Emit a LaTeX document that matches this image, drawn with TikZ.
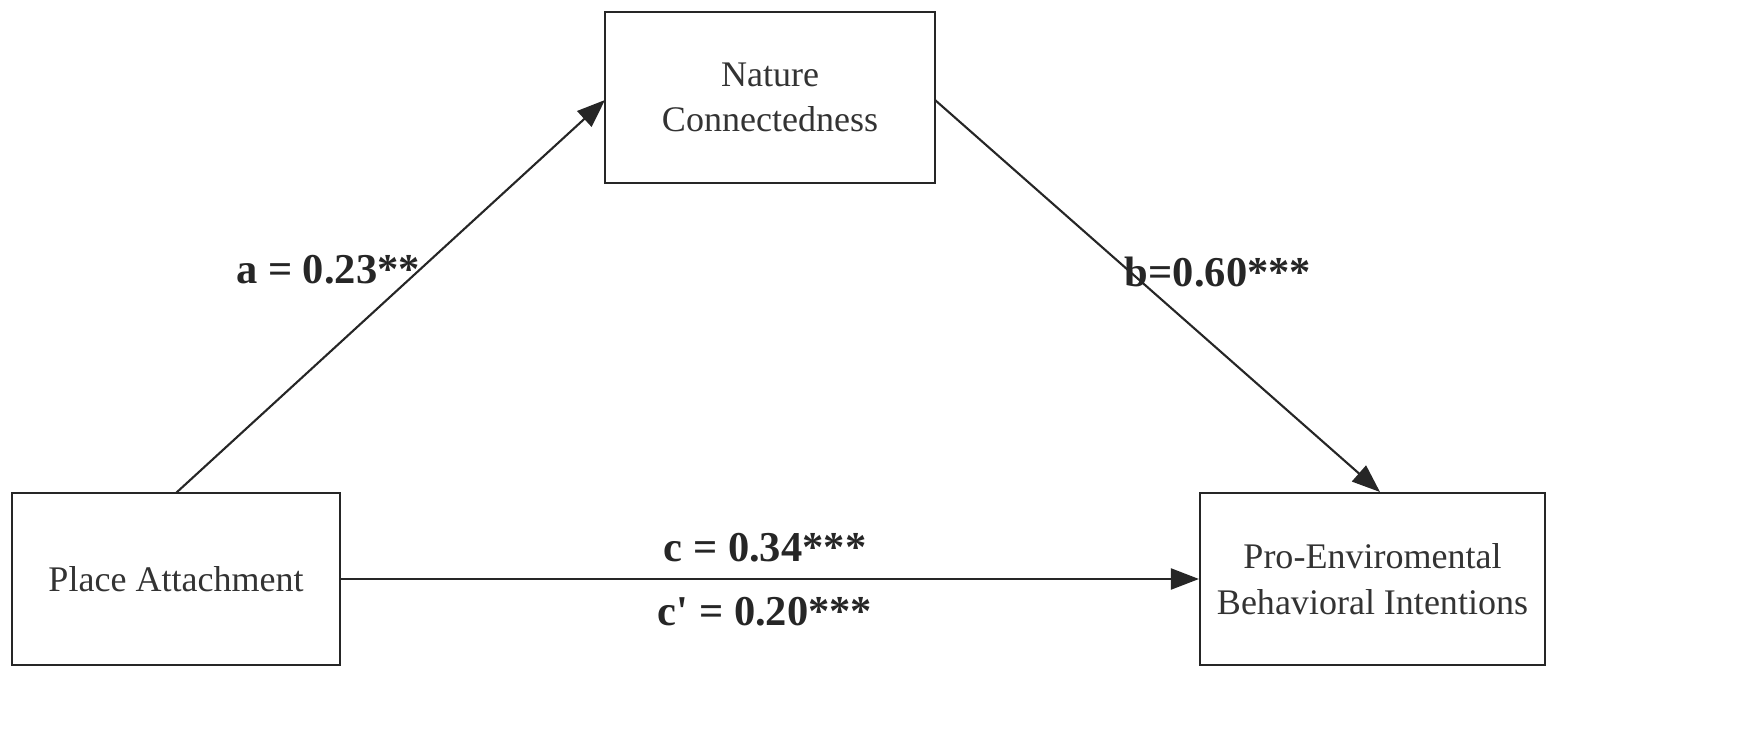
\documentclass[tikz,border=0pt]{standalone}
\usepackage{fontspec}
\setmainfont{Liberation Serif}
\usetikzlibrary{arrows.meta}
\begin{document}
\begin{tikzpicture}[x=0.02cm,y=-0.02cm,
  box/.style={draw=black!85,line width=1.2pt,inner sep=0pt,align=center,font=\fontsize{20.5}{26}\selectfont,text=black!80},
  lab/.style={font=\bfseries\fontsize{24.2}{28}\selectfont,text=black!85},
  arr/.style={draw=black!85,line width=1.2pt,-{Triangle[length=16pt,width=12pt]}}]
\useasboundingbox (0,0) rectangle (1755,753);
\node[box,minimum width=330*0.02cm,minimum height=171*0.02cm] (nc) at (770,97.5) {Nature\\Connectedness};
\node[box,minimum width=328*0.02cm,minimum height=172*0.02cm] (pa) at (176,579) {Place Attachment};
\node[box,minimum width=345*0.02cm,minimum height=172*0.02cm] (pe) at (1372.5,579) {Pro-Enviromental\\Behavioral Intentions};
\coordinate (a1) at (176,493);
\coordinate (a2) at (605,100);
\coordinate (b1) at (935,100);
\coordinate (b2) at (1380,492);
\draw[arr] (a1) -- (a2);
\draw[arr] (b1) -- (b2);
\draw[arr] (pa.east) -- (pe.west);
\node[lab] (la) at (328,270) {a = 0.23**};
\node[lab] (lb) at (1218,272) {b=0.60***};
\node[lab] (lc) at (765,548) {c = 0.34***};
\node[lab] (lc2) at (765,612) {c\textquotesingle{} = 0.20***};
\end{tikzpicture}
\end{document}
